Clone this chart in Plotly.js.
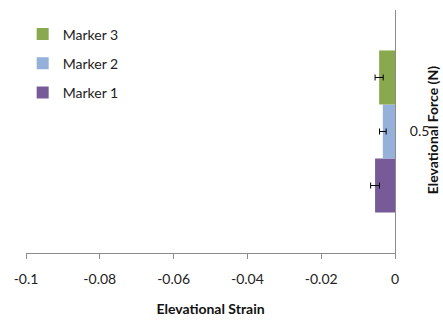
<!DOCTYPE html>
<html>
<head>
<meta charset="utf-8">
<script src="https://cdn.plot.ly/plotly-3.0.1.min.js"></script>
<style>html,body{margin:0;padding:0;background:#fff;}#chart{width:443px;height:320px;}</style>
</head>
<body>
<div id="chart"></div>
<script>
var category = ['0.5'];
var seriesNames = ['Marker 1', 'Marker 2', 'Marker 3'];
var marker1 = [-0.0054];
var marker2 = [-0.0033];
var marker3 = [-0.0043];
var err1 = [0.0012];
var err2 = [0.0009];
var err3 = [0.0011];
var xTickVals = [-0.1, -0.08, -0.06, -0.04, -0.02, 0];
var xTickText = ['-0.1', '-0.08', '-0.06', '-0.04', '-0.02', '0'];
var colors = ['#775a98', '#95b0d9', '#8aa94f'];

var vals = [marker1, marker2, marker3];
var errs = [err1, err2, err3];
var traces = seriesNames.map(function(n, i){
  return {
    type: 'bar', orientation: 'h', name: n, legendgroup: 'g' + i, legendrank: 1000 - i,
    x: vals[i], y: category,
    marker: {color: colors[i], line: {width: 0}},
    error_x: {type: 'data', array: errs[i], visible: true, color: '#000', thickness: 1, width: 3}
  };
});

var fam = 'Lato, "Open Sans", sans-serif';
var layout = {
  width: 443, height: 320,
  margin: {l: 26, r: 48, t: 10, b: 67},
  paper_bgcolor: '#fff', plot_bgcolor: '#fff',
  font: {family: fam, size: 14, color: '#222'},
  barmode: 'group', bargap: 0.333, bargroupgap: 0,
  showlegend: true,
  legend: {x: -0.009, y: 0.965, xanchor: 'left', yanchor: 'top', traceorder: 'grouped',
           font: {family: fam, size: 14, color: '#222'}, itemwidth: 30, tracegroupgap: 8,
           bgcolor: 'rgba(0,0,0,0)'},
  xaxis: {
    range: [-0.1, 0], tickvals: xTickVals, ticktext: xTickText,
    showgrid: false, zeroline: false, showline: true, linecolor: '#8c8c8c', linewidth: 1,
    ticks: 'outside', ticklen: 5, tickcolor: '#8c8c8c',
    tickfont: {family: fam, size: 14, color: '#222'},
    ticklabelstandoff: 8,
    title: {text: 'Elevational Strain', font: {family: fam, size: 14, color: '#111', weight: 'bold'}, standoff: 18},
    automargin: false, fixedrange: true
  },
  yaxis: {
    type: 'category', side: 'right',
    showgrid: false, zeroline: false, showline: true, linecolor: '#8c8c8c', linewidth: 1,
    ticks: 'inside', tickson: 'boundaries', ticklen: 4, tickcolor: '#8c8c8c',
    tickfont: {family: fam, size: 14, color: '#222'},
    ticklabelstandoff: 11,
    automargin: false, fixedrange: true
  },
  annotations: [{
    text: 'Elevational Force (N)', xref: 'paper', yref: 'paper', x: 1.1, y: 0.505,
    xanchor: 'center', yanchor: 'middle', textangle: -90, showarrow: false,
    font: {family: fam, size: 14, color: '#111', weight: 'bold'}
  }]
};
Plotly.newPlot('chart', traces, layout, {displayModeBar: false, staticPlot: true});
</script>
</body>
</html>
